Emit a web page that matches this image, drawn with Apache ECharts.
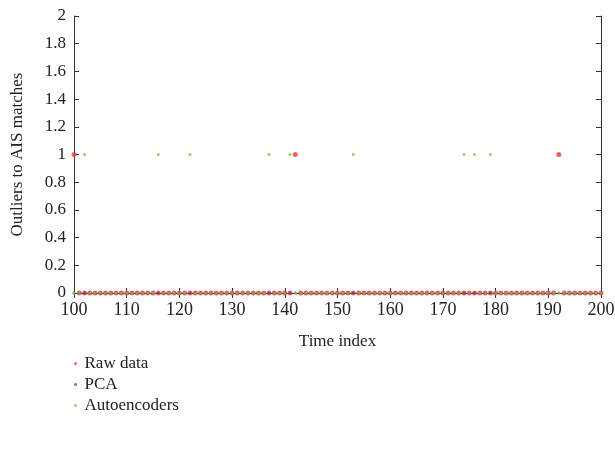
<!DOCTYPE html>
<html>
<head>
    <meta charset="UTF-8">
    <script src="https://cdn.jsdelivr.net/npm/echarts@6/dist/echarts.min.js"></script>
    <style>
        body { margin: 0; background: #fff; }
        #chart { width: 615px; height: 451px; }
    </style>
</head>
<body>
<div id="chart"></div>
<script>
var timeIndex = [
    100, 101, 102, 103, 104, 105, 106, 107, 108, 109,
    110, 111, 112, 113, 114, 115, 116, 117, 118, 119,
    120, 121, 122, 123, 124, 125, 126, 127, 128, 129,
    130, 131, 132, 133, 134, 135, 136, 137, 138, 139,
    140, 141, 142, 143, 144, 145, 146, 147, 148, 149,
    150, 151, 152, 153, 154, 155, 156, 157, 158, 159,
    160, 161, 162, 163, 164, 165, 166, 167, 168, 169,
    170, 171, 172, 173, 174, 175, 176, 177, 178, 179,
    180, 181, 182, 183, 184, 185, 186, 187, 188, 189,
    190, 191, 192, 193, 194, 195, 196, 197, 198, 199,
    200
];
var rawData = [
    1, 0, 0, 0, 0, 0, 0, 0, 0, 0,
    0, 0, 0, 0, 0, 0, 0, 0, 0, 0,
    0, 0, 0, 0, 0, 0, 0, 0, 0, 0,
    0, 0, 0, 0, 0, 0, 0, 0, 0, 0,
    0, 0, 1, 0, 0, 0, 0, 0, 0, 0,
    0, 0, 0, 0, 0, 0, 0, 0, 0, 0,
    0, 0, 0, 0, 0, 0, 0, 0, 0, 0,
    0, 0, 0, 0, 0, 0, 0, 0, 0, 0,
    0, 0, 0, 0, 0, 0, 0, 0, 0, 0,
    0, 0, 1, 0, 0, 0, 0, 0, 0, 0,
    0
];
var pcaData = [
    0, 0, 0, 0, 0, 0, 0, 0, 0, 0,
    0, 0, 0, 0, 0, 0, 0, 0, 0, 0,
    0, 0, 0, 0, 0, 0, 0, 0, 0, 0,
    0, 0, 0, 0, 0, 0, 0, 0, 0, 0,
    0, 0, 0, 0, 0, 0, 0, 0, 0, 0,
    0, 0, 0, 0, 0, 0, 0, 0, 0, 0,
    0, 0, 0, 0, 0, 0, 0, 0, 0, 0,
    0, 0, 0, 0, 0, 0, 0, 0, 0, 0,
    0, 0, 0, 0, 0, 0, 0, 0, 0, 0,
    0, 0, 0, 0, 0, 0, 0, 0, 0, 0,
    0
];
var aeData = [
    0, 0, 1, 0, 0, 0, 0, 0, 0, 0,
    0, 0, 0, 0, 0, 0, 1, 0, 0, 0,
    0, 0, 1, 0, 0, 0, 0, 0, 0, 0,
    0, 0, 0, 0, 0, 0, 0, 1, 0, 0,
    0, 1, 0, 0, 0, 0, 0, 0, 0, 0,
    0, 0, 0, 1, 0, 0, 0, 0, 0, 0,
    0, 0, 0, 0, 0, 0, 0, 0, 0, 0,
    0, 0, 0, 0, 1, 0, 1, 0, 0, 1,
    0, 0, 0, 0, 0, 0, 0, 0, 0, 0,
    0, 0, 0, 0, 0, 0, 0, 0, 0, 0,
    0
];
var seriesNames = ['Raw data', 'PCA', 'Autoencoders'];
var seriesColors = ['#f23a3a', '#5a3ca8', '#7cc544'];

var font = 'Liberation Serif, DejaVu Serif, serif';

function pairs(vals) {
    var out = [];
    for (var i = 0; i < timeIndex.length; i++) {
        out.push([timeIndex[i], vals[i]]);
    }
    return out;
}

var chart = echarts.init(document.getElementById('chart'));

var axisLine = { show: true, lineStyle: { color: '#333', width: 1 } };
var axisTick = { show: true, inside: true, length: 5, lineStyle: { color: '#333' } };

chart.setOption({
    animation: false,
    textStyle: { fontFamily: font },
    grid: { left: 74, right: 14, top: 16, bottom: 158, containLabel: false, outerBoundsMode: 'none' },
    legend: {
        orient: 'vertical',
        left: 69,
        top: 350,
        itemGap: 4,
        itemWidth: 8,
        itemHeight: 3,
        textStyle: { fontFamily: font, fontSize: 17, color: '#222' },
        data: seriesNames.map(function (n) { return { name: n, icon: 'circle' }; })
    },
    xAxis: [{
        type: 'value',
        min: 100, max: 200, interval: 10,
        name: 'Time index',
        nameLocation: 'middle',
        nameGap: 40,
        nameTextStyle: { fontFamily: font, fontSize: 17, color: '#222' },
        axisLine: axisLine,
        axisTick: axisTick,
        axisLabel: { fontFamily: font, fontSize: 18, color: '#222', margin: 8 },
        splitLine: { show: false }
    }, {
        type: 'value', position: 'top',
        min: 100, max: 200, interval: 10,
        axisLine: axisLine, axisTick: axisTick,
        axisLabel: { show: false }, splitLine: { show: false }
    }],
    yAxis: [{
        type: 'value',
        min: 0, max: 2, interval: 0.2,
        name: 'Outliers to AIS matches',
        nameLocation: 'middle',
        nameGap: 48,
        nameTextStyle: { fontFamily: font, fontSize: 17, color: '#222' },
        axisLine: axisLine,
        axisTick: axisTick,
        axisLabel: { fontFamily: font, fontSize: 17, color: '#222', margin: 8 },
        splitLine: { show: false }
    }, {
        type: 'value', position: 'right',
        min: 0, max: 2, interval: 0.2,
        axisLine: axisLine, axisTick: axisTick,
        axisLabel: { show: false }, splitLine: { show: false }
    }],
    series: [{
        name: seriesNames[0],
        type: 'scatter',
        symbolSize: 5,
        itemStyle: { color: seriesColors[0] },
        data: pairs(rawData)
    }, {
        name: seriesNames[1],
        type: 'scatter',
        symbolSize: 3,
        itemStyle: { color: seriesColors[1] },
        data: pairs(pcaData)
    }, {
        name: seriesNames[2],
        type: 'scatter',
        symbolSize: 3,
        itemStyle: { color: seriesColors[2] },
        data: pairs(aeData)
    }]
});
</script>
</body>
</html>
